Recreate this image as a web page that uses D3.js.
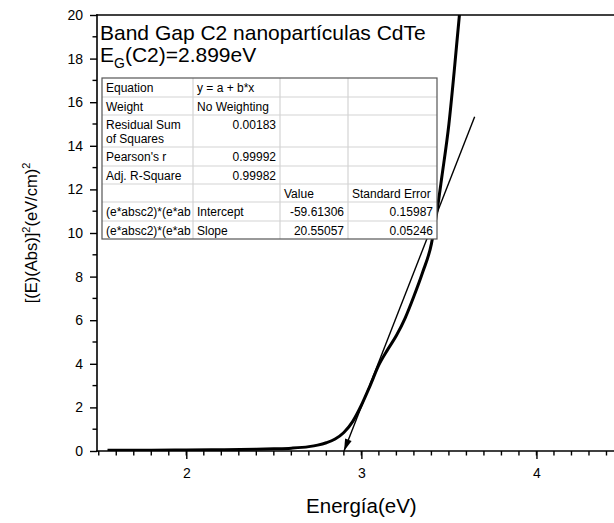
<!DOCTYPE html>
<html>
<head>
<meta charset="utf-8">
<script src="https://cdn.jsdelivr.net/npm/d3@7"></script>
<style>
  html, body { margin: 0; background: #fff; overflow: hidden; }
  svg { display: block; }
  text { font-family: "Liberation Sans", Arial, sans-serif; fill: #000; }
</style>
</head>
<body>
<script>
var w = 614;
var h = 523;

// measured curve, [(E)(Abs)]^2 vs energy
var energy = [1.55, 1.8, 2.0, 2.2, 2.4, 2.5, 2.6, 2.7, 2.75, 2.8, 2.85, 2.9, 2.95, 3.0, 3.05, 3.1, 3.15, 3.2, 3.25, 3.3, 3.35, 3.4, 3.43, 3.46, 3.5, 3.53, 3.56, 3.58];
var signal = [0.04, 0.04, 0.05, 0.06, 0.08, 0.1, 0.13, 0.2, 0.27, 0.38, 0.55, 0.85, 1.35, 2.1, 3.0, 3.95, 4.65, 5.3, 6.1, 7.1, 8.2, 9.5, 10.9, 12.6, 15.0, 17.4, 20.0, 21.5];

// linear fit y = a + b*x
var fitA = -59.61306;
var fitB = 20.55057;
var fitRange = [-fitA / fitB, 3.647];

var xTicks = [2, 3, 4];
var yTicks = [0, 2, 4, 6, 8, 10, 12, 14, 16, 18, 20];

var tableRows = [
  ["Equation", "y = a + b*x", "", ""],
  ["Weight", "No Weighting", "", ""],
  ["Residual Sum|of Squares", "0.00183", "", ""],
  ["Pearson's r", "0.99992", "", ""],
  ["Adj. R-Square", "0.99982", "", ""],
  ["", "", "Value", "Standard Error"],
  ["(e*absc2)*(e*ab", "Intercept", "-59.61306", "0.15987"],
  ["(e*absc2)*(e*ab", "Slope", "20.55057", "0.05246"]
];

var xScale = d3.scaleLinear().domain([1.49, 4.5]).range([97, 624]);
var yScale = d3.scaleLinear().domain([0, 20]).range([451, 15]);
var x0 = xScale.range()[0], y0 = yScale(0), yTop = yScale(20);

var svg = d3.select("body").append("svg")
  .attr("width", w)
  .attr("height", h);

svg.append("defs").append("clipPath").attr("id", "clip")
  .append("rect")
  .attr("x", x0).attr("y", yTop)
  .attr("width", 527).attr("height", y0 - yTop);

// minor ticks
var xMinor = d3.range(15, 46).map(function(d) { return d / 10; });
svg.append("g").selectAll("line").data(xMinor).enter().append("line")
  .attr("x1", function(d) { return xScale(d); })
  .attr("x2", function(d) { return xScale(d); })
  .attr("y1", y0).attr("y2", y0 + 4.5)
  .attr("stroke", "#000").attr("stroke-width", 1.4);

svg.append("g").selectAll("line").data(d3.range(1, 20, 2)).enter().append("line")
  .attr("x1", x0 - 4.5).attr("x2", x0)
  .attr("y1", function(d) { return yScale(d); })
  .attr("y2", function(d) { return yScale(d); })
  .attr("stroke", "#000").attr("stroke-width", 1.4);

// major axes
var gx = svg.append("g").attr("transform", "translate(0," + y0 + ")")
  .call(d3.axisBottom(xScale).tickValues(xTicks).tickFormat(d3.format("d"))
    .tickSizeInner(8).tickSizeOuter(0).tickPadding(9));
var gy = svg.append("g").attr("transform", "translate(" + x0 + ",0)")
  .call(d3.axisLeft(yScale).tickValues(yTicks)
    .tickSizeInner(7).tickSizeOuter(0).tickPadding(7));

[gx, gy].forEach(function(g) {
  g.select(".domain").remove();
  g.selectAll(".tick line").attr("stroke-width", 1.4);
  g.selectAll(".tick text").style("font-size", "14px").style("font-family", "Liberation Sans, Arial, sans-serif");
});

// frame: left, bottom, top
var frame = [[x0, yTop, x0, y0], [x0, y0, w, y0], [x0, yTop, w, yTop]];
svg.append("g").selectAll("line").data(frame).enter().append("line")
  .attr("x1", function(d) { return d[0]; })
  .attr("y1", function(d) { return d[1]; })
  .attr("x2", function(d) { return d[2]; })
  .attr("y2", function(d) { return d[3]; })
  .attr("stroke", "#000").attr("stroke-width", 1.6)
  .attr("stroke-linecap", "square");

// axis titles
svg.append("text")
  .attr("x", xScale(3)).attr("y", 513)
  .attr("text-anchor", "middle")
  .style("font-size", "20.5px")
  .text("Energía(eV)");

var yl = svg.append("text")
  .attr("transform", "translate(37," + yScale(10) + ") rotate(-90)")
  .attr("text-anchor", "middle")
  .style("font-size", "16.5px");
yl.append("tspan").text("[(E)(Abs)]");
yl.append("tspan").attr("dy", -7).style("font-size", "11px").text("2");
yl.append("tspan").attr("dy", 7).text("(eV/cm)");
yl.append("tspan").attr("dy", -7).style("font-size", "11px").text("2");

// curves
var plot = svg.append("g").attr("clip-path", "url(#clip)");

var line = d3.line()
  .x(function(d) { return xScale(d[0]); })
  .y(function(d) { return yScale(d[1]); })
  .curve(d3.curveMonotoneX);

plot.append("path")
  .datum(d3.zip(energy, signal))
  .attr("d", line)
  .attr("fill", "none")
  .attr("stroke", "#000")
  .attr("stroke-width", 3);

var fitPts = fitRange.map(function(x) { return [x, fitA + fitB * x]; });
plot.append("path")
  .datum(fitPts)
  .attr("d", d3.line().x(function(d) { return xScale(d[0]); }).y(function(d) { return yScale(d[1]); }))
  .attr("fill", "none")
  .attr("stroke", "#000")
  .attr("stroke-width", 1.4);

// arrow head at the intercept
var tip = [xScale(fitPts[0][0]), yScale(fitPts[0][1])];
var far = [xScale(fitPts[1][0]), yScale(fitPts[1][1])];
var ang = Math.atan2(far[1] - tip[1], far[0] - tip[0]);
var len = 12, half = 3.5;
var bx = tip[0] + len * Math.cos(ang), by = tip[1] + len * Math.sin(ang);
svg.append("path")
  .attr("d", "M" + tip[0] + "," + tip[1] +
    "L" + (bx - half * Math.sin(ang)) + "," + (by + half * Math.cos(ang)) +
    "L" + (bx + half * Math.sin(ang)) + "," + (by - half * Math.cos(ang)) + "Z")
  .attr("fill", "#000");

// title
svg.append("text")
  .attr("x", 100).attr("y", 40)
  .style("font-size", "21px")
  .text("Band Gap C2 nanopartículas CdTe");
var t2 = svg.append("text").attr("x", 100).attr("y", 62).style("font-size", "21px");
t2.append("tspan").text("E");
t2.append("tspan").attr("dy", 6).style("font-size", "14px").text("G");
t2.append("tspan").attr("dy", -6).text("(C2)=2.899eV");

// fit table
var colX = [102, 193, 280, 348, 437];
var rowY = [78, 97, 115, 147, 166, 184, 202, 221, 239];
var tbl = svg.append("g");

tbl.append("rect")
  .attr("x", colX[0]).attr("y", rowY[0])
  .attr("width", colX[4] - colX[0]).attr("height", rowY[8] - rowY[0])
  .attr("fill", "#fff");

tbl.selectAll(".hl").data(rowY.slice(1, -1)).enter().append("line")
  .attr("x1", colX[0]).attr("x2", colX[4])
  .attr("y1", function(d) { return d; }).attr("y2", function(d) { return d; })
  .attr("stroke", "#d4d4d4").attr("stroke-width", 1.2);
tbl.selectAll(".vl").data(colX.slice(1, -1)).enter().append("line")
  .attr("x1", function(d) { return d; }).attr("x2", function(d) { return d; })
  .attr("y1", rowY[0]).attr("y2", rowY[8])
  .attr("stroke", "#d4d4d4").attr("stroke-width", 1.2);
tbl.append("rect")
  .attr("x", colX[0]).attr("y", rowY[0])
  .attr("width", colX[4] - colX[0]).attr("height", rowY[8] - rowY[0])
  .attr("fill", "none").attr("stroke", "#555").attr("stroke-width", 1.2);

function isNum(s) { return /^-?[0-9.]+$/.test(s); }

tableRows.forEach(function(row, r) {
  row.forEach(function(cell, c) {
    if (!cell) return;
    var lines = cell.split("|");
    var num = isNum(cell);
    var t = tbl.append("text")
      .attr("x", num ? colX[c + 1] - 4 : colX[c] + 4)
      .attr("y", rowY[r] + 14)
      .attr("text-anchor", num ? "end" : "start")
      .style("font-size", "12px");
    lines.forEach(function(l, i) {
      t.append("tspan")
        .attr("x", num ? colX[c + 1] - 4 : colX[c] + 4)
        .attr("dy", i ? 14 : 0)
        .text(l);
    });
  });
});
</script>
</body>
</html>
